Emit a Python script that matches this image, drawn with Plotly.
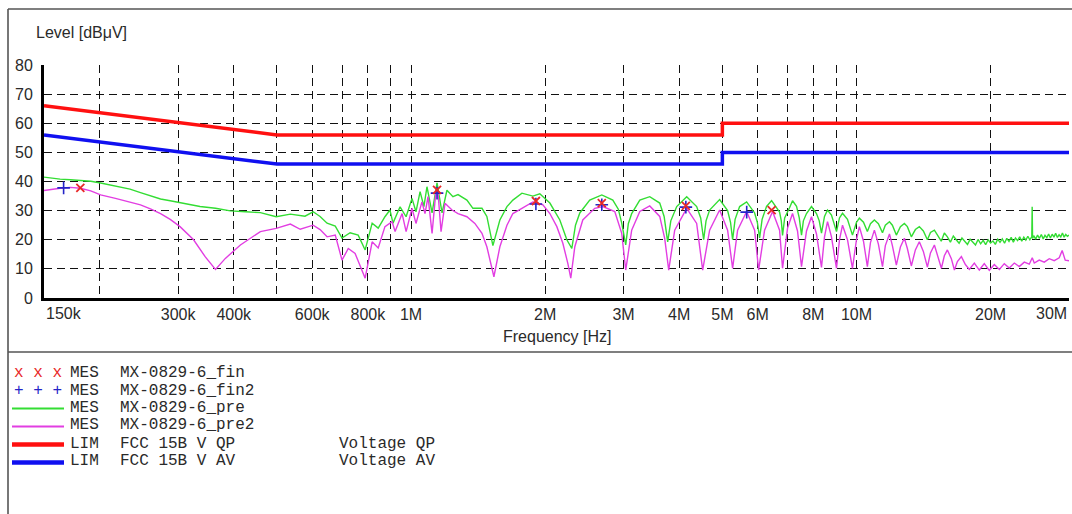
import math
import plotly.graph_objects as go

# ---------------- data (frequency in MHz, level in dBuV) ----------------
pre_freq = [
    0.150, 0.155, 0.163, 0.172, 0.181, 0.191, 0.201, 0.217, 0.234, 0.247,
    0.260, 0.274, 0.288, 0.303, 0.325, 0.336, 0.364, 0.393, 0.425, 0.459,
    0.498, 0.536, 0.578, 0.603, 0.625, 0.648, 0.676, 0.700, 0.730, 0.761,
    0.789, 0.818, 0.844, 0.874, 0.897, 0.911, 0.945, 0.975, 1.005, 1.026,
    1.048, 1.069, 1.086, 1.115, 1.144, 1.174, 1.204, 1.242, 1.275, 1.335,
    1.377, 1.443, 1.480, 1.527, 1.583, 1.642, 1.693, 1.774, 1.877, 1.946,
    2.050, 2.158, 2.238, 2.296, 2.340, 2.393, 2.519, 2.681, 2.838, 2.920,
    2.972, 3.034, 3.075, 3.129, 3.263, 3.435, 3.617, 3.700, 3.769, 3.830,
    3.949, 4.158, 4.378, 4.470, 4.539, 4.595, 4.681, 4.930, 5.137, 5.215,
    5.272, 5.340, 5.467, 5.668, 5.907, 5.990, 6.061, 6.140, 6.283, 6.448,
    6.720, 6.780, 6.824, 6.900, 7.075, 7.186, 7.336, 7.440, 7.527, 7.600,
    7.724, 7.926, 8.133, 8.250, 8.346, 8.477, 8.610, 8.788, 9.019, 9.160,
    9.304, 9.546, 9.795, 10.00, 10.15, 10.37, 10.58, 10.75, 10.97, 11.20,
    11.44, 11.61, 11.86, 12.04, 12.29, 12.55, 12.81, 13.01, 13.28, 13.56,
    13.84, 14.13, 14.43, 14.66, 14.96, 15.19,
    15.50, 15.75, 16.00, 16.25, 16.50, 16.75, 17.00, 17.25, 17.50, 17.75,
    18.00, 18.25, 18.50, 18.75, 19.00, 19.25, 19.50, 19.75, 20.00, 20.25,
    20.50, 20.75, 21.00, 21.25, 21.50, 21.75, 22.00, 22.25, 22.50, 22.75,
    23.00, 23.25, 23.50, 23.75, 24.00, 24.25, 24.50, 24.75, 24.80, 24.85,
    25.00, 25.25, 25.50, 25.75, 26.00, 26.25, 26.50, 26.75, 27.00, 27.25,
    27.50, 27.75, 28.00, 28.25, 28.50, 28.75, 29.00, 29.25, 29.50, 29.75,
    30.00,
]
pre_level = [
    41.5, 41.2, 40.8, 40.6, 40.3, 40.1, 39.5, 38.5, 37.4, 36.2,
    35.0, 34.0, 33.4, 32.8, 32.0, 31.4, 30.8, 29.9, 29.6, 29.3,
    27.9, 28.8, 28.1, 29.6, 28.0, 25.7, 24.7, 20.6, 22.4, 21.6,
    16.5, 25.7, 24.0, 27.9, 30.2, 25.7, 31.3, 27.9, 34.2, 29.6,
    36.5, 31.4, 38.2, 29.2, 39.5, 29.2, 37.0, 34.8, 35.5, 33.6,
    30.8, 30.8, 28.0, 18.0, 26.8, 31.4, 33.6, 36.0, 35.0, 35.8,
    32.6, 26.8, 20.0, 17.0, 25.0, 29.2, 33.6, 35.4, 33.6, 30.5,
    25.7, 18.2, 25.5, 29.0, 33.6, 34.8, 32.6, 28.0, 19.3, 26.5,
    31.4, 34.8, 31.4, 27.5, 20.0, 26.5, 30.2, 33.8, 30.0, 26.0,
    20.0, 27.0, 31.4, 33.0, 29.2, 26.0, 20.6, 27.0, 31.5, 33.4,
    29.5, 26.5, 21.5, 27.5, 31.0, 33.4, 31.5, 27.5, 21.6, 26.5,
    29.0, 31.4, 29.0, 26.5, 22.3, 28.0, 30.2, 28.5, 22.8, 27.5,
    29.1, 27.0, 21.6, 26.0, 27.4, 26.0, 22.8, 25.5, 26.8, 25.5,
    22.4, 25.0, 26.2, 25.0, 21.6, 24.5, 25.6, 24.5, 21.0, 23.5,
    24.5, 23.0, 20.0, 22.5, 23.3, 21.5,
    19.5, 22.3, 21.0, 19.2, 21.3, 20.0, 18.8, 20.6, 19.5, 18.4,
    20.2, 19.0, 18.2, 20.1, 18.6, 19.8, 18.3, 20.0, 18.9, 19.6,
    18.4, 20.2, 19.1, 20.3, 18.8, 20.5, 19.4, 20.8, 19.2, 20.6,
    19.7, 21.0, 19.5, 20.9, 19.9, 21.2, 20.0, 21.0, 31.3, 20.4,
    21.4, 20.2, 21.6, 20.5, 21.8, 20.3, 21.5, 20.7, 22.0, 20.6,
    21.9, 20.9, 22.2, 20.8, 21.7, 21.0, 22.3, 20.9, 21.8, 21.2,
    21.6,
]

pre2_freq = [
    0.150, 0.155, 0.163, 0.172, 0.181, 0.191, 0.201, 0.217, 0.234, 0.247,
    0.260, 0.274, 0.288, 0.303, 0.325, 0.345, 0.364, 0.383, 0.414, 0.436,
    0.459, 0.498, 0.536, 0.564, 0.603, 0.625, 0.648, 0.676, 0.700, 0.723,
    0.749, 0.789, 0.818, 0.844, 0.874, 0.907, 0.921, 0.955, 0.975, 1.005,
    1.026, 1.058, 1.075, 1.092, 1.115, 1.138, 1.150, 1.168, 1.192, 1.236,
    1.275, 1.335, 1.391, 1.443, 1.480, 1.535, 1.583, 1.642, 1.693, 1.774,
    1.877, 1.977, 2.050, 2.125, 2.192, 2.249, 2.284, 2.332, 2.430, 2.585,
    2.695, 2.867, 2.972, 3.034, 3.129, 3.263, 3.435, 3.617, 3.711, 3.789,
    3.908, 4.158, 4.378, 4.516, 4.681, 4.930, 5.137, 5.272, 5.410, 5.668,
    5.907, 6.030, 6.219, 6.481, 6.720, 6.824, 7.003, 7.186, 7.373, 7.527,
    7.724, 7.926, 8.133, 8.346, 8.477, 8.610, 8.788, 9.019, 9.160, 9.304,
    9.546, 9.795, 10.00, 10.15, 10.37, 10.58, 10.75, 10.97, 11.20, 11.44,
    11.61, 11.86, 12.04, 12.29, 12.55, 12.81, 13.01, 13.28, 13.56, 13.84,
    14.13, 14.43, 14.66, 14.96, 15.19, 15.51, 15.75, 16.00, 16.33, 16.59,
    16.85, 17.20, 17.56, 17.92, 18.39, 18.87, 19.36, 19.87, 20.39, 20.93,
    21.47, 22.03, 22.61, 23.20, 23.81, 24.43, 24.81, 25.07, 25.72, 26.40,
    27.09, 27.79, 28.52, 28.96, 29.42, 30.00,
]
pre2_level = [
    36.9, 37.3, 37.7, 38.0, 37.7, 36.8, 35.4, 34.2, 32.8, 32.0,
    30.6, 29.0, 27.0, 24.5, 20.0, 14.2, 9.8, 13.6, 18.2, 20.5,
    22.8, 23.9, 25.4, 23.6, 25.0, 23.5, 21.0, 21.6, 13.0, 17.0,
    15.3, 6.8, 19.3, 17.2, 24.5, 26.2, 22.8, 29.0, 22.8, 30.8,
    25.6, 33.0, 29.0, 34.8, 22.2, 37.0, 36.0, 22.8, 32.5, 30.2,
    29.0, 27.9, 25.6, 22.2, 17.6, 7.3, 17.6, 25.0, 29.0, 30.8,
    33.0, 32.0, 29.0, 24.5, 18.8, 11.9, 6.8, 17.6, 26.8, 30.8,
    31.4, 29.7, 22.2, 9.6, 23.3, 29.7, 31.6, 28.0, 20.5, 9.6,
    23.3, 30.8, 25.6, 9.6, 23.3, 30.2, 23.3, 10.2, 23.3, 29.7,
    23.3, 9.6, 23.3, 29.7, 23.3, 10.2, 24.0, 29.0, 23.0, 10.8,
    23.0, 27.9, 22.0, 10.5, 21.0, 26.2, 21.0, 10.2, 20.0, 25.0,
    20.0, 10.2, 20.0, 24.5, 19.5, 10.8, 19.0, 23.3, 18.5, 10.8,
    18.0, 22.0, 18.0, 11.3, 17.5, 20.5, 17.0, 11.0, 16.5, 19.3,
    16.0, 10.6, 15.5, 18.2, 15.0, 10.2, 14.5, 16.5, 13.5, 9.6,
    12.5, 14.2, 11.5, 9.8, 12.0, 9.6, 11.8, 9.5, 11.5, 9.8,
    11.8, 10.3, 12.0, 10.8, 12.3, 11.6, 13.8, 12.0, 13.0, 12.3,
    13.5, 12.8, 13.8, 16.3, 13.0, 12.8,
]

fin_freq = [0.181, 1.144, 1.907, 2.681, 4.140, 6.450]
fin_level = [37.8, 37.1, 33.3, 32.6, 31.6, 30.2]

fin2_freq = [0.166, 1.144, 1.907, 2.681, 4.140, 5.670]
fin2_level = [37.8, 36.0, 32.3, 32.0, 31.2, 29.5]

qp_freq = [0.15, 0.5, 5.0, 5.0, 30.0]
qp_level = [66, 56, 56, 60, 60]
av_freq = [0.15, 0.5, 5.0, 5.0, 30.0]
av_level = [56, 46, 46, 50, 50]

grid_freqs = [0.2, 0.3, 0.4, 0.5, 0.6, 0.7, 0.8, 0.9, 1, 2, 3, 4, 5, 6, 7, 8, 9, 10, 20, 30]
grid_labels = ["", "300k", "400k", "", "600k", "", "800k", "", "1M", "2M", "3M", "4M",
               "5M", "6M", "", "8M", "", "10M", "20M", ""]
edge_labels = ["150k", "30M"]
y_ticks = [0, 10, 20, 30, 40, 50, 60, 70, 80]

legend_marks = ["x x x", "+ + +", "line", "line", "thick", "thick"]
legend_kinds = ["MES", "MES", "MES", "MES", "LIM", "LIM"]
legend_names = ["MX-0829-6_fin", "MX-0829-6_fin2", "MX-0829-6_pre", "MX-0829-6_pre2",
                "FCC 15B V QP", "FCC 15B V AV"]
legend_descr = ["", "", "", "", "Voltage QP", "Voltage AV"]

assert len(pre_freq) == len(pre_level)
assert len(pre2_freq) == len(pre2_level)

# ---------------- style ----------------
RED = "#ff1010"
BLUE = "#1010f0"
GREEN = "#33dd33"
MAGENTA = "#e23ee2"
MARK_RED = "#e82828"
MARK_BLUE = "#2424c8"
legend_colors = [MARK_RED, MARK_BLUE, GREEN, MAGENTA, RED, BLUE]

W, H = 1072, 514
L, R, T, B = 44, 3, 65, 216
PW, PH = W - L - R, H - T - B


def px(x):
    return (x - L) / PW


def py(y):
    return (H - B - y) / PH


SANS = "Liberation Sans, Arial, sans-serif"
MONO = "Liberation Mono, Courier New, monospace"
TXT = "#2a2a2a"

fig = go.Figure()
fig.add_trace(go.Scatter(x=pre_freq, y=pre_level, mode="lines",
                         line=dict(color=GREEN, width=1.4)))
fig.add_trace(go.Scatter(x=pre2_freq, y=pre2_level, mode="lines",
                         line=dict(color=MAGENTA, width=1.4)))
fig.add_trace(go.Scatter(x=qp_freq, y=qp_level, mode="lines",
                         line=dict(color=RED, width=3.5)))
fig.add_trace(go.Scatter(x=av_freq, y=av_level, mode="lines",
                         line=dict(color=BLUE, width=3.5)))
fig.add_trace(go.Scatter(x=fin2_freq, y=fin2_level, mode="markers",
                         marker=dict(symbol="cross-thin", size=9,
                                     line=dict(color=MARK_BLUE, width=1.6))))
fig.add_trace(go.Scatter(x=fin_freq, y=fin_level, mode="markers",
                         marker=dict(symbol="x-thin", size=8,
                                     line=dict(color=MARK_RED, width=1.8))))

grid_dash = "8px,5px"
fig.update_xaxes(type="log", range=[math.log10(0.15), math.log10(30)],
                 tickmode="array", tickvals=grid_freqs, ticktext=grid_labels,
                 showgrid=True, gridcolor="#111", gridwidth=1, griddash=grid_dash,
                 showline=True, linecolor="#000", linewidth=3, ticks="",
                 zeroline=False, tickfont=dict(family=SANS, size=16, color=TXT),
                 ticklabelstandoff=0)
fig.update_yaxes(range=[0, 80], tickmode="array", tickvals=y_ticks,
                 showgrid=True, gridcolor="#111", gridwidth=1, griddash=grid_dash,
                 showline=True, linecolor="#000", linewidth=3, ticks="",
                 zeroline=False, tickfont=dict(family=SANS, size=16, color=TXT),
                 ticklabelstandoff=5)

ann = []
# edge tick labels (150k / 30M) placed inside the axis ends
ann.append(dict(x=math.log10(0.15), y=py(313), xref="x", yref="paper", text=edge_labels[0],
                xanchor="left", yanchor="middle", showarrow=False,
                font=dict(family=SANS, size=16, color=TXT)))
ann.append(dict(x=math.log10(30), y=py(313), xref="x", yref="paper", text=edge_labels[1],
                xanchor="right", yanchor="middle", showarrow=False,
                font=dict(family=SANS, size=16, color=TXT)))
# axis titles
ann.append(dict(x=px(34), y=py(33), xref="paper", yref="paper", text="Level [dBμV]",
                xanchor="left", yanchor="middle", showarrow=False,
                font=dict(family=SANS, size=16, color=TXT)))
ann.append(dict(x=px(557), y=py(336), xref="paper", yref="paper", text="Frequency [Hz]",
                xanchor="center", yanchor="middle", showarrow=False,
                font=dict(family=SANS, size=16, color=TXT)))

shapes = []
# outer frame and separator
frame = dict(color="#555", width=1.6)
shapes.append(dict(type="line", xref="paper", yref="paper", x0=px(8), x1=px(W + 5),
                   y0=py(9), y1=py(9), line=frame))
shapes.append(dict(type="line", xref="paper", yref="paper", x0=px(8), x1=px(8),
                   y0=py(9), y1=py(H + 5), line=frame))
shapes.append(dict(type="line", xref="paper", yref="paper", x0=px(8), x1=px(W + 5),
                   y0=py(352), y1=py(352), line=frame))

row_y = [373, 390.5, 407.5, 425.5, 443.5, 461.5]
for i in range(6):
    yy = py(row_y[i])
    mk = legend_marks[i]
    if mk in ("x x x", "+ + +"):
        ann.append(dict(x=px(12), y=yy, xref="paper", yref="paper", text=mk,
                        xanchor="left", yanchor="middle", showarrow=False,
                        font=dict(family=MONO, size=16, color=legend_colors[i])))
    else:
        w = 2 if mk == "line" else 4.5
        shapes.append(dict(type="line", xref="paper", yref="paper",
                           x0=px(12), x1=px(64), y0=py(row_y[i] + 1), y1=py(row_y[i] + 1),
                           line=dict(color=legend_colors[i], width=w)))
    ann.append(dict(x=px(68), y=yy, xref="paper", yref="paper", text=legend_kinds[i],
                    xanchor="left", yanchor="middle", showarrow=False,
                    font=dict(family=MONO, size=16, color=TXT)))
    ann.append(dict(x=px(118), y=yy, xref="paper", yref="paper", text=legend_names[i],
                    xanchor="left", yanchor="middle", showarrow=False,
                    font=dict(family=MONO, size=16, color=TXT)))
    if legend_descr[i]:
        ann.append(dict(x=px(337), y=yy, xref="paper", yref="paper", text=legend_descr[i],
                        xanchor="left", yanchor="middle", showarrow=False,
                        font=dict(family=MONO, size=16, color=TXT)))

fig.update_layout(width=W, height=H, margin=dict(l=L, r=R, t=T, b=B, pad=0),
                  paper_bgcolor="white", plot_bgcolor="white", showlegend=False,
                  annotations=ann, shapes=shapes)

fig.write_html("out.html", config={"displayModeBar": False},
               post_script="document.body.style.margin='0px';document.body.style.overflow='hidden';")
